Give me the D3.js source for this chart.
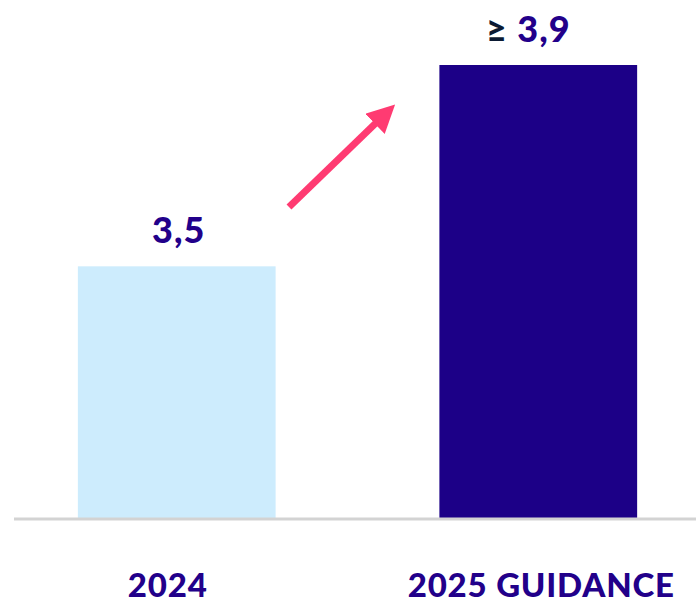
<!DOCTYPE html>
<html>
<head>
<meta charset="utf-8">
<script src="https://cdn.jsdelivr.net/npm/d3@7"></script>
<style>
  html, body { margin: 0; padding: 0; background: #fff; }
</style>
</head>
<body>
<div id="chart"></div>
<script>
{
  const categories = ["2024", "2025 GUIDANCE"];
  const values = [3.5, 3.9];
  const valueLabels = ["3,5", "3,9"];
  const valuePrefixes = ["", "\u2265 "];
  const barColors = ["#cdecfd", "#1c0087"];

  const width = 696;
  const height = 603;
  const baseline = 518;

  const svg = d3.select("#chart")
    .append("svg")
    .attr("width", width)
    .attr("height", height);

  const x = d3.scaleBand()
    .domain(categories)
    .range([-30.6, 745.6])
    .paddingInner(0.453)
    .paddingOuter(0.3);

  const y = d3.scaleLinear()
    .domain([3.0, 3.9])
    .range([baseline, 65]);

  svg.selectAll("rect.bar")
    .data(categories)
    .enter()
    .append("rect")
    .attr("class", "bar")
    .attr("x", d => x(d))
    .attr("y", (d, i) => y(values[i]))
    .attr("width", x.bandwidth())
    .attr("height", (d, i) => baseline - y(values[i]))
    .attr("fill", (d, i) => barColors[i]);

  // baseline
  svg.append("line")
    .attr("x1", 14)
    .attr("x2", width)
    .attr("y1", baseline + 1)
    .attr("y2", baseline + 1)
    .attr("stroke", "#d3d3d3")
    .attr("stroke-width", 3);

  // value labels
  const labels = svg.selectAll("text.value")
    .data(categories)
    .enter()
    .append("text")
    .attr("class", "value")
    .attr("x", (d, i) => x(d) + x.bandwidth() / 2 + (i === 1 ? -10 : 2))
    .attr("y", (d, i) => y(values[i]) - 23)
    .attr("text-anchor", "middle")
    .attr("font-family", "Lato, sans-serif")
    .attr("font-weight", 900)
    .attr("font-size", 36)
    .attr("letter-spacing", 1)
    .attr("fill", "#22008a");

  labels.append("tspan")
    .attr("fill", "#0b1a33")
    .text((d, i) => valuePrefixes[i]);
  labels.append("tspan")
    .text((d, i) => valueLabels[i]);

  // category labels
  svg.selectAll("text.cat")
    .data(categories)
    .enter()
    .append("text")
    .attr("class", "cat")
    .attr("x", d => x(d) + x.bandwidth() / 2 + (d === "2024" ? -9 : 3))
    .attr("y", 597)
    .attr("text-anchor", "middle")
    .attr("font-family", "Lato, sans-serif")
    .attr("font-weight", 900)
    .attr("font-size", 33)
    .attr("letter-spacing", 0.8)
    .attr("fill", "#22008a")
    .text(d => d);

  // growth arrow
  const defs = svg.append("defs");
  defs.append("marker")
    .attr("id", "arrowhead")
    .attr("viewBox", "0 -5 10 10")
    .attr("refX", 2)
    .attr("refY", 0)
    .attr("markerWidth", 4)
    .attr("markerHeight", 4)
    .attr("orient", "auto")
    .attr("markerUnits", "strokeWidth")
    .append("path")
    .attr("d", "M0,-5 L10,0 L0,5 Z")
    .attr("fill", "#ff3b72");

  svg.append("line")
    .attr("x1", 289)
    .attr("y1", 207)
    .attr("x2", 379)
    .attr("y2", 120)
    .attr("stroke", "#ff3b72")
    .attr("stroke-width", 7)
    .attr("marker-end", "url(#arrowhead)");
}
</script>
</body>
</html>
